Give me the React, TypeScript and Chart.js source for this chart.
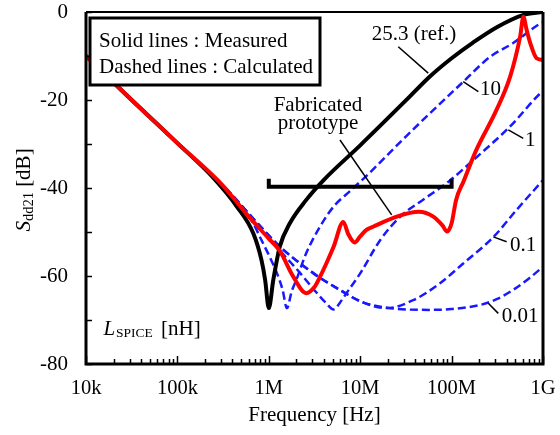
import React, { useEffect, useRef } from "react";
import { Chart, registerables } from "chart.js";

Chart.register(...registerables);

const FONT = "'Liberation Serif', 'Times New Roman', serif";

// ---- Data (frequency in Hz, Sdd21 in dB) ----
// Measured, L_SPICE = 25.3 nH (reference)
const refFreq = [1e4, 3.16e4, 1e5, 2.45e5, 4.47e5, 6.76e5, 8.32e5, 9.12e5, 1e6, 1.12e6, 1.32e6, 1.7e6, 2.57e6, 3.98e6, 1e7, 3.16e7, 5.75e7, 1e8, 1.7e8, 3.16e8, 6.03e8, 1e9];
const refDb = [-10, -20, -29.8, -37.6, -44.2, -50.3, -56.4, -60.9, -67.3, -60.9, -53.3, -48, -42.7, -38.2, -30.3, -20.1, -14.7, -10.5, -7, -3.4, -0.7, 0];

// Measured, fabricated prototype
const protoFreq = [1e4, 3.16e4, 1e5, 3.16e5, 5.75e5, 1e6, 1.32e6, 1.86e6, 2.57e6, 3.16e6, 3.63e6, 4.27e6, 5.13e6, 6.53e6, 7.41e6, 8.71e6, 1e7, 1.17e7, 1.38e7, 2.51e7, 4.37e7, 6.31e7, 7.94e7, 8.91e7, 1e8, 1.12e8, 1.35e8, 1.86e8, 3.09e8, 4.37e8, 5.62e8, 6.1e8, 6.61e8, 7.24e8, 8.51e8, 1e9];
const protoDb = [-10, -20, -29.8, -39.5, -46, -51.5, -54.3, -60.2, -63.9, -62.5, -60.2, -57.1, -53.3, -47.7, -50.5, -52.4, -51, -49.5, -48.8, -46.5, -45.4, -46.5, -48.5, -49.9, -48, -42.7, -38.5, -31.4, -22.3, -14.7, -5.6, -1.1, -4, -7, -10.5, -10.9];

// Calculated, L_SPICE = 10 nH
const l10Freq = [1e4, 3.16e4, 1e5, 3.16e5, 5.01e5, 6.76e5, 7.94e5, 1.02e6, 1.23e6, 1.41e6, 1.58e6, 1.78e6, 2e6, 2.57e6, 3.63e6, 5.13e6, 7.94e6, 1.26e7, 3.16e7, 1.35e8, 2.63e8, 4.68e8, 9.33e8, 1e9];
const l10Db = [-10, -20, -29.8, -39.5, -44, -48, -51, -55.6, -59.4, -63, -67.3, -63.5, -60.9, -54.8, -48.8, -44.2, -40.5, -36.6, -28.3, -15.8, -10.2, -7.1, -2.6, -2.3];

// Calculated, L_SPICE = 1 nH
const l1Freq = [1e4, 3.16e4, 1e5, 3.16e5, 6.31e5, 1e6, 1.58e6, 2.24e6, 3.09e6, 4.17e6, 5.13e6, 6.03e6, 7.08e6, 1e7, 1.66e7, 2.75e7, 5.01e7, 9.33e7, 1.74e8, 4.37e8, 9.33e8, 1e9];
const l1Db = [-10, -20, -29.8, -39.5, -46.3, -51.5, -56, -59.5, -63, -66, -67.6, -66, -63.9, -59.4, -51.8, -46.5, -42.5, -38.5, -33.6, -26, -18.5, -18];

// Calculated, L_SPICE = 0.1 nH
const l01Freq = [1e4, 3.16e4, 1e5, 3.16e5, 6.31e5, 1.32e6, 3.09e6, 6.03e6, 1.07e7, 1.95e7, 3.8e7, 7.41e7, 1.35e8, 2.88e8, 5.13e8, 1e9];
const l01Db = [-10, -20, -29.8, -39.5, -46.3, -53.3, -59.4, -63.2, -66, -67.3, -65.5, -61.7, -57.1, -51.1, -45, -38.2];

// Calculated, L_SPICE = 0.01 nH
const l001Freq = [1e4, 3.16e4, 1e5, 3.16e5, 6.31e5, 1.32e6, 3.09e6, 6.03e6, 1.07e7, 1.95e7, 3.16e7, 5.75e7, 1e8, 2.04e8, 3.16e8, 4.68e8, 7.08e8, 1e9];
const l001Db = [-10, -20, -29.8, -39.5, -46.3, -53.3, -59.4, -63.2, -66, -67.2, -67.6, -67.7, -67.5, -66.6, -65.2, -63.2, -60.5, -57.9];

// Axis ticks
const xTickValues = [1e4, 1e5, 1e6, 1e7, 1e8, 1e9];
const xTickLabels = ["10k", "100k", "1M", "10M", "100M", "1G"];
const yTickValues = [0, -10, -20, -30, -40, -50, -60, -70, -80];
const yTickLabels = ["0", "", "-20", "", "-40", "", "-60", "", "-80"];

// Bracket (1 MHz – 100 MHz at -40 dB)
const bracketFreq = [1e6, 1e8];
const bracketDb = -39.7;

const pts = (fs: number[], ds: number[]) => fs.map((f, i) => ({ x: f, y: ds[i] }));

const allXTicks: number[] = [];
for (let i = 0; i < xTickValues.length - 1; i++) {
  for (let m = 1; m <= 9; m++) allXTicks.push(xTickValues[i] * m);
}
allXTicks.push(xTickValues[xTickValues.length - 1]);

const isMajor = (v: number) => xTickValues.some((t) => Math.abs(v / t - 1) < 1e-6);

export default function App() {
  const ref = useRef<HTMLCanvasElement>(null);

  useEffect(() => {
    const canvas = ref.current!;
    const BLUE = "rgb(25,25,255)";

    const annot = {
      id: "annot",
      afterDatasetsDraw(chart: any) {
        const { ctx, chartArea: ca, scales } = chart;
        const xs = scales.x;
        const ys = scales.y;
        const X = (f: number) => xs.getPixelForValue(f);
        const Y = (d: number) => ys.getPixelForValue(d);
        ctx.save();
        ctx.strokeStyle = "#000";
        ctx.fillStyle = "#000";

        // inner tick marks
        ctx.lineWidth = 1.5;
        ctx.beginPath();
        for (const v of allXTicks) {
          const x = Math.round(X(v)) + 0.5;
          const len = isMajor(v) ? 8 : 5;
          ctx.moveTo(x, ca.bottom);
          ctx.lineTo(x, ca.bottom - len);
        }
        for (const v of yTickValues) {
          const y = Math.round(Y(v)) + 0.5;
          ctx.moveTo(ca.left, y);
          ctx.lineTo(ca.left + 6, y);
        }
        ctx.stroke();

        // frame
        ctx.lineWidth = 2;
        ctx.beginPath();
        ctx.moveTo(ca.left, ca.top);
        ctx.lineTo(ca.right, ca.top);
        ctx.stroke();
        ctx.lineWidth = 3;
        ctx.beginPath();
        ctx.moveTo(ca.right, ca.top);
        ctx.lineTo(ca.right, ca.bottom);
        ctx.moveTo(ca.left, ca.top);
        ctx.lineTo(ca.left, ca.bottom);
        ctx.moveTo(ca.left - 1.5, ca.bottom);
        ctx.lineTo(ca.right + 1.5, ca.bottom);
        ctx.stroke();

        // bracket
        ctx.lineWidth = 4;
        ctx.beginPath();
        ctx.moveTo(X(bracketFreq[0]), Y(bracketDb + 1.8));
        ctx.lineTo(X(bracketFreq[0]), Y(bracketDb));
        ctx.lineTo(X(bracketFreq[1]), Y(bracketDb));
        ctx.lineTo(X(bracketFreq[1]), Y(bracketDb + 1.8));
        ctx.stroke();

        // legend box
        ctx.fillStyle = "#fff";
        ctx.fillRect(ca.left + 4, ca.top + 6, 230, 67);
        ctx.fillStyle = "#000";
        ctx.lineWidth = 3;
        ctx.strokeRect(ca.left + 4, ca.top + 6, 230, 67);
        ctx.font = `21px ${FONT}`;
        ctx.textAlign = "left";
        ctx.textBaseline = "alphabetic";
        ctx.fillText("Solid lines : Measured", ca.left + 13, ca.top + 35);
        ctx.fillText("Dashed lines : Calculated", ca.left + 13, ca.top + 61);

        // leader lines
        ctx.lineWidth = 1.5;
        const leader = (f1: number, d1: number, f2: number, d2: number) => {
          ctx.beginPath();
          ctx.moveTo(X(f1), Y(d1));
          ctx.lineTo(X(f2), Y(d2));
          ctx.stroke();
        };
        leader(2.61e7, -7.9, 5.55e7, -13.9);
        leader(1.34e8, -15.8, 1.96e8, -18.1);
        leader(4.17e8, -26.8, 6.08e8, -28.7);
        leader(2.86e8, -51.1, 4.0e8, -52.2);
        leader(2.52e8, -66.2, 3.24e8, -68.5);
        leader(6.01e6, -29.1, 2.21e7, -46.1);

        // labels
        ctx.font = `21px ${FONT}`;
        ctx.textBaseline = "middle";
        ctx.textAlign = "center";
        ctx.fillText("25.3 (ref.)", X(3.88e7), Y(-5.0));
        ctx.fillText("Fabricated", X(3.45e6), Y(-21.2));
        ctx.fillText("prototype", X(3.45e6), Y(-25.3));
        ctx.textAlign = "left";
        ctx.fillText("10", X(2.05e8), Y(-17.7));
        ctx.fillText("1", X(6.35e8), Y(-29.1));
        ctx.fillText("0.1", X(4.36e8), Y(-53));
        ctx.fillText("0.01", X(3.53e8), Y(-69.1));

        // L_SPICE [nH]
        ctx.textBaseline = "alphabetic";
        let lx = X(1.55e4);
        const ly = Y(-73.5);
        ctx.font = `italic 21px ${FONT}`;
        ctx.fillText("L", lx, ly);
        lx += ctx.measureText("L").width + 1;
        ctx.font = `13.5px ${FONT}`;
        ctx.fillText("SPICE", lx, ly + 2);
        lx += ctx.measureText("SPICE").width + 3;
        ctx.font = `21px ${FONT}`;
        ctx.fillText(" [nH]", lx, ly);

        // x title
        ctx.textAlign = "center";
        ctx.font = `21px ${FONT}`;
        ctx.fillText("Frequency [Hz]", (ca.left + ca.right) / 2, 421);

        // y title (rotated)
        ctx.save();
        ctx.translate(30, (ca.top + ca.bottom) / 2 + 2);
        ctx.rotate(-Math.PI / 2);
        ctx.textAlign = "left";
        ctx.font = `italic 21px ${FONT}`;
        const w1 = ctx.measureText("S").width;
        ctx.font = `14.5px ${FONT}`;
        const w2 = ctx.measureText("dd21").width;
        ctx.font = `21px ${FONT}`;
        const w3 = ctx.measureText(" [dB]").width;
        let tx = -(w1 + w2 + w3) / 2;
        ctx.font = `italic 21px ${FONT}`;
        ctx.fillText("S", tx, 0);
        tx += w1;
        ctx.font = `14.5px ${FONT}`;
        ctx.fillText("dd21", tx, 3);
        tx += w2;
        ctx.font = `21px ${FONT}`;
        ctx.fillText(" [dB]", tx, 0);
        ctx.restore();

        ctx.restore();
      },
    };

    const dashed = (label: string, fs: number[], ds: number[]) => ({
      label,
      data: pts(fs, ds),
      borderColor: BLUE,
      borderWidth: 2.5,
      borderDash: [8, 4],
      cubicInterpolationMode: "monotone" as const,
      order: 2,
    });

    const chart = new Chart(canvas, {
      type: "line",
      data: {
        datasets: [
          {
            label: "Fabricated prototype",
            data: pts(protoFreq, protoDb),
            borderColor: "rgb(255,0,0)",
            borderWidth: 4,
            cubicInterpolationMode: "monotone",
            order: 0,
          },
          {
            label: "25.3 (ref.)",
            data: pts(refFreq, refDb),
            borderColor: "#000",
            borderWidth: 4,
            cubicInterpolationMode: "monotone",
            order: 1,
          },
          dashed("10", l10Freq, l10Db),
          dashed("1", l1Freq, l1Db),
          dashed("0.1", l01Freq, l01Db),
          dashed("0.01", l001Freq, l001Db),
        ],
      },
      options: {
        responsive: false,
        animation: false,
        layout: { padding: { top: 12, right: 17, left: 0, bottom: 0 } },
        elements: { point: { radius: 0 } },
        plugins: { legend: { display: false }, tooltip: { enabled: false } },
        scales: {
          x: {
            type: "logarithmic",
            min: 1e4,
            max: 1e9,
            afterFit(s: any) {
              s.height = 71;
              s.paddingLeft = 0;
              s.paddingRight = 0;
            },
            afterBuildTicks(s: any) {
              s.ticks = allXTicks.map((v) => ({ value: v }));
            },
            ticks: {
              autoSkip: false,
              maxRotation: 0,
              padding: 12,
              color: "#000",
              font: { family: FONT, size: 20.5 },
              callback(v: any) {
                const i = xTickValues.findIndex((t) => Math.abs(Number(v) / t - 1) < 1e-6);
                return i >= 0 ? xTickLabels[i] : "";
              },
            },
            grid: { display: false, drawTicks: false },
            border: { display: false },
          },
          y: {
            type: "linear",
            min: -80,
            max: 0,
            afterFit(s: any) {
              s.width = 86;
              s.paddingTop = 0;
              s.paddingBottom = 0;
            },
            afterBuildTicks(s: any) {
              s.ticks = yTickValues.map((v) => ({ value: v }));
            },
            ticks: {
              autoSkip: false,
              padding: 18,
              color: "#000",
              font: { family: FONT, size: 21 },
              callback(v: any) {
                const i = yTickValues.indexOf(Number(v));
                return i >= 0 ? yTickLabels[i] : "";
              },
            },
            grid: { display: false, drawTicks: false },
            border: { display: false },
          },
        },
      },
      plugins: [annot],
    });

    return () => chart.destroy();
  }, []);

  return (
    <canvas
      ref={ref}
      width={560}
      height={435}
      style={{ position: "fixed", left: 0, top: 0, display: "block", background: "#fff" }}
    />
  );
}
